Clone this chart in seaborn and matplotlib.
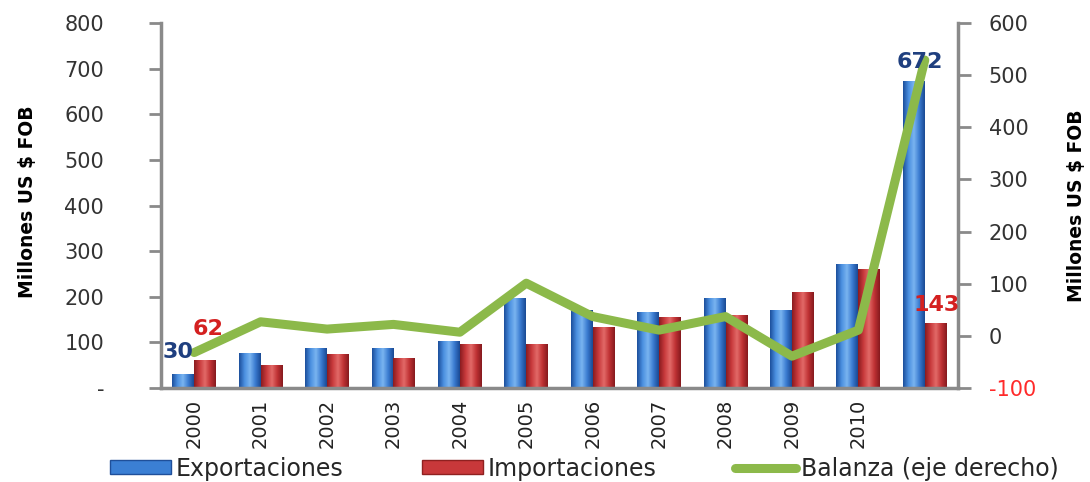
import numpy as np
import pandas as pd
import seaborn as sns
import matplotlib.pyplot as plt
from matplotlib.patches import Patch
from matplotlib.lines import Line2D
from matplotlib.ticker import FixedLocator
from matplotlib.colors import LinearSegmentedColormap

years = ["2000", "2001", "2002", "2003", "2004", "2005", "2006",
         "2007", "2008", "2009", "2010", "2011"]
year_labels = ["2000", "2001", "2002", "2003", "2004", "2005", "2006",
               "2007", "2008", "2009", "2010", ""]
exportaciones = [30, 77, 88, 88, 103, 197, 171, 167, 197, 171, 272, 672]
importaciones = [62, 50, 75, 66, 96, 96, 134, 156, 160, 210, 261, 143]
balanza = [-32, 27, 13, 22, 7, 101, 37, 11, 37, -39, 11, 529]

left_ticks = [0, 100, 200, 300, 400, 500, 600, 700, 800]
left_ticklabels = ["-", "100", "200", "300", "400", "500", "600", "700", "800"]
right_ticks = [-100, 0, 100, 200, 300, 400, 500, 600]

BLUE = "#3b7fd4"
RED = "#c8383a"
GREEN = "#8cb94a"
AXIS_GRAY = "#8a8a8a"
TEXT = "#333333"

df = pd.DataFrame({
    "year": years * 2,
    "value": exportaciones + importaciones,
    "serie": ["Exportaciones"] * len(years) + ["Importaciones"] * len(years),
})

sns.set_style("white")
plt.rcParams["font.family"] = ["DejaVu Sans"]

fig = plt.figure(figsize=(10.9, 4.82), dpi=100)
ax = fig.add_axes([0.1477, 0.195, 0.7312, 0.7573])

sns.barplot(
    data=df, x="year", y="value", hue="serie",
    palette={"Exportaciones": BLUE, "Importaciones": RED},
    width=0.66, saturation=1, legend=False, ax=ax,
    edgecolor="none",
)

# cylinder-like shading on the bars
shade = {
    BLUE: LinearSegmentedColormap.from_list(
        "b", ["#1c4f9c", "#4a8fe0", "#7ab4f0", "#3a7bd0", "#1a4a94"]),
    RED: LinearSegmentedColormap.from_list(
        "r", ["#8a1c20", "#c83a3c", "#e26a68", "#c03234", "#861a1e"]),
}
grad = np.linspace(0, 1, 64).reshape(1, -1)
for p in list(ax.patches):
    fc = p.get_facecolor()
    key = BLUE if fc[2] > fc[0] else RED
    x0, y0 = p.get_x(), p.get_y()
    w, h = p.get_width(), p.get_height()
    if h <= 0:
        continue
    im = ax.imshow(grad, cmap=shade[key], aspect="auto",
                   extent=(x0, x0 + w, y0, y0 + h), zorder=p.get_zorder() + 0.1)
    im.set_clip_path(p)
ax.set_xlim(-0.5, len(years) - 0.5)
ax.set_ylim(0, 800)
ax.set_xlabel("")

# left axis
ax.set_yticks(left_ticks)
ax.set_yticklabels(left_ticklabels, fontsize=15, color=TEXT)
ax.tick_params(axis="y", direction="out", length=9, width=2,
               color=AXIS_GRAY, pad=32)
ax.set_ylabel("Millones US $ FOB", fontsize=13.5, fontweight="bold", color="black")
ax.yaxis.set_label_coords(-0.155, 0.51)

# x axis: labels at group centres, marks at group boundaries
ax.set_xticks(range(len(years)))
ax.set_xticklabels(year_labels, rotation=90, fontsize=14, color="#222222")
ax.tick_params(axis="x", which="major", length=0, pad=8)
ax.xaxis.set_minor_locator(FixedLocator(np.arange(-0.5, len(years), 1.0)))
ax.tick_params(axis="x", which="minor", direction="out", length=8, width=2,
               color=AXIS_GRAY)

for side in ["top", "right"]:
    ax.spines[side].set_visible(False)
for side in ["left", "bottom"]:
    ax.spines[side].set_color(AXIS_GRAY)
    ax.spines[side].set_linewidth(2.5)

# right axis with the balance line
ax2 = ax.twinx()
sns.lineplot(x=np.arange(len(years)), y=balanza, color=GREEN,
             linewidth=6.5, ax=ax2, legend=False)
ax2.set_ylim(-100, 600)
ax2.set_yticks(right_ticks)
ax2.set_yticklabels([str(t) for t in right_ticks], fontsize=15, color=TEXT)
ax2.get_yticklabels()[0].set_color("#ff2a2a")
ax2.tick_params(axis="y", direction="out", length=9, width=2,
                color=AXIS_GRAY, pad=13)
ax2.set_ylabel("Millones US $ FOB", fontsize=13.5, fontweight="bold", color="black")
ax2.yaxis.set_label_coords(1.137, 0.5)
for side in ["top", "left", "bottom"]:
    ax2.spines[side].set_visible(False)
ax2.spines["right"].set_color(AXIS_GRAY)
ax2.spines["right"].set_linewidth(2.5)

# data labels
lbl = dict(fontsize=16, fontweight="bold", ha="center", va="center",
           transform=ax.transData)
ax2.text(-0.25, exportaciones[0] + 50, str(exportaciones[0]), color="#1f3f7f", **lbl)
ax2.text(0.21, importaciones[0] + 67, str(importaciones[0]), color="#d42020", **lbl)
ax2.text(10.93, exportaciones[-1] + 42, str(exportaciones[-1]), color="#1f3f7f", **lbl)
ax2.text(11.18, importaciones[-1] + 39, str(importaciones[-1]), color="#d42020", **lbl)

handles = [
    Patch(facecolor=BLUE, edgecolor="#1f4f9a"),
    Patch(facecolor=RED, edgecolor="#8f2020"),
    Line2D([0], [0], color=GREEN, linewidth=6.5),
]
fig.legend(handles, ["Exportaciones", "Importaciones", "Balanza (eje derecho)"],
           loc="center", bbox_to_anchor=(0.536, 0.028), ncol=3, frameon=False,
           fontsize=17, handlelength=2.6, handleheight=0.55, handletextpad=0.2,
           columnspacing=3.3)

fig.savefig("out.png", dpi=100)
